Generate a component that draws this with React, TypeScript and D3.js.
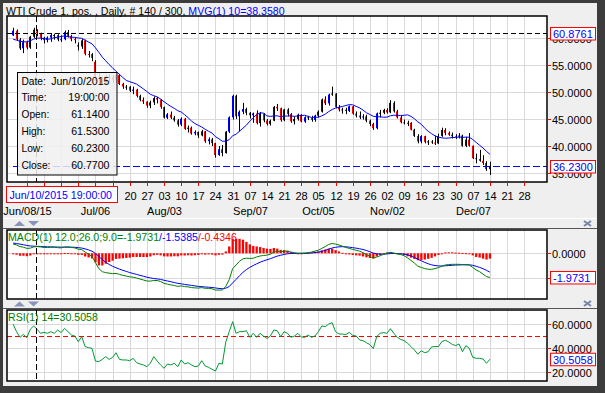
import React, { useEffect, useRef } from "react";
import * as d3 from "d3";

// WTI daily bars, one per weekday, Jun 2 2015 .. Dec 14 2015
const opens = [
  60.40, 61.26, 59.64, 58.00, 59.13, 58.14, 60.14, 61.14, 60.77, 59.96,
  59.52, 59.97, 60.43, 60.45, 59.61, 59.68, 61.01, 60.27, 59.70, 58.60,
  58.33, 59.47, 56.96, 56.93, 55.50, 52.53, 52.33, 51.65, 52.78, 52.60,
  52.20, 53.04, 51.41, 50.91, 50.89, 50.15, 50.36, 49.19, 48.45, 48.14,
  47.39, 47.98, 48.79, 48.52, 47.12, 45.17, 45.74, 45.15, 44.66, 43.87,
  44.96, 43.08, 43.30, 42.23, 42.50, 41.87, 42.62, 40.80, 41.14, 40.45,
  38.24, 39.31, 38.60, 42.56, 45.22, 49.20, 45.41, 46.25, 46.75, 46.05,
  45.60, 45.94, 44.15, 45.92, 44.63, 44.00, 44.59, 47.15, 46.90, 44.68,
  46.68, 45.83, 44.48, 44.91, 45.70, 44.43, 45.23, 45.09, 44.74, 45.54,
  46.26, 48.53, 47.81, 49.43, 49.63, 47.10, 46.66, 46.64, 46.38, 47.26,
  45.89, 45.55, 45.20, 45.38, 44.60, 43.98, 43.20, 45.94, 46.06, 46.59,
  46.14, 47.90, 46.32, 45.20, 44.29, 44.21, 44.21, 42.93, 41.75, 40.74,
  41.74, 40.67, 40.75, 40.54, 40.39, 41.75, 42.87, 42.33, 42.00, 41.71,
  41.65, 41.85, 39.94, 41.08, 39.97, 37.65, 37.51, 37.16, 36.76, 35.62,
];
const highs = [
  61.80, 61.50, 59.90, 59.60, 59.40, 60.30, 61.80, 61.53, 60.90, 60.10,
  60.20, 60.80, 60.70, 60.60, 60.40, 61.30, 61.40, 60.50, 59.90, 59.10,
  59.70, 59.60, 57.50, 57.10, 55.80, 53.40, 52.70, 53.10, 53.20, 53.00,
  53.40, 53.20, 51.60, 51.20, 51.00, 50.90, 50.50, 49.40, 48.90, 48.20,
  48.30, 49.10, 49.00, 48.60, 47.20, 46.00, 46.30, 45.50, 44.90, 45.20,
  45.10, 43.70, 43.50, 42.80, 42.60, 42.90, 42.70, 41.50, 41.40, 40.50,
  39.90, 40.10, 42.70, 45.40, 49.40, 49.40, 46.50, 47.90, 47.00, 46.20,
  46.10, 46.50, 46.20, 46.00, 44.90, 44.80, 47.30, 47.70, 47.00, 46.80,
  46.90, 46.00, 45.40, 45.90, 45.80, 45.40, 45.50, 45.50, 45.70, 46.50,
  48.70, 49.10, 49.60, 50.90, 49.70, 47.50, 47.00, 47.00, 47.40, 47.30,
  46.30, 46.30, 45.80, 45.70, 44.80, 44.20, 46.10, 46.60, 46.80, 46.90,
  48.40, 48.20, 46.60, 45.60, 44.80, 44.60, 44.30, 43.10, 42.10, 41.90,
  41.80, 41.00, 41.00, 41.80, 42.20, 43.30, 43.20, 42.60, 42.40, 42.10,
  42.30, 42.00, 41.60, 42.30, 40.00, 38.50, 39.20, 38.20, 37.10, 37.00,
];
const lows = [
  60.30, 59.40, 57.70, 57.10, 57.80, 57.90, 59.90, 60.23, 59.50, 58.90,
  59.10, 59.20, 59.60, 59.30, 59.20, 59.50, 60.00, 59.30, 58.90, 57.60,
  57.90, 56.70, 56.30, 55.60, 52.00, 51.20, 51.20, 51.40, 51.80, 51.60,
  51.50, 51.20, 50.50, 50.30, 49.90, 49.50, 48.90, 48.20, 47.70, 47.00,
  46.90, 47.50, 47.80, 46.80, 45.00, 44.90, 44.90, 44.40, 43.50, 43.60,
  42.90, 42.40, 42.00, 41.90, 41.40, 41.70, 40.50, 40.20, 39.90, 37.75,
  38.10, 38.00, 38.50, 42.30, 44.80, 44.90, 42.60, 45.80, 45.60, 45.00,
  44.20, 43.90, 43.50, 44.30, 43.70, 43.70, 44.50, 46.40, 44.40, 44.50,
  45.40, 44.20, 43.90, 44.60, 44.30, 44.20, 44.70, 44.40, 44.40, 45.20,
  46.10, 47.50, 47.40, 49.20, 46.90, 46.30, 45.90, 45.80, 46.20, 45.70,
  45.20, 44.90, 44.80, 44.30, 43.60, 42.90, 43.00, 45.20, 45.80, 45.90,
  46.00, 46.10, 45.00, 44.10, 43.90, 43.60, 42.80, 41.60, 40.40, 40.40,
  40.40, 40.10, 40.30, 40.10, 40.30, 41.60, 41.90, 41.80, 41.30, 41.20,
  41.30, 39.80, 39.70, 39.80, 37.50, 36.70, 37.00, 36.40, 35.30, 34.53,
];
const closes = [
  61.26, 59.64, 58.00, 59.13, 58.14, 60.14, 61.43, 60.77, 59.96, 59.52,
  59.97, 60.43, 60.45, 59.61, 59.68, 61.01, 60.27, 59.70, 59.63, 58.33,
  59.47, 56.96, 56.93, 56.20, 52.53, 52.33, 51.65, 52.78, 52.74, 52.20,
  53.04, 51.41, 50.91, 50.89, 50.15, 50.36, 49.19, 48.45, 48.14, 47.39,
  47.98, 48.79, 48.52, 47.12, 45.17, 45.74, 45.15, 44.66, 43.87, 44.96,
  43.08, 43.30, 42.23, 42.50, 41.87, 42.62, 40.80, 41.14, 40.45, 38.24,
  39.31, 38.60, 42.56, 45.22, 49.20, 45.41, 46.25, 46.75, 46.05, 45.60,
  45.94, 44.15, 45.92, 44.63, 44.00, 44.59, 47.15, 46.90, 44.68, 46.68,
  45.83, 44.48, 44.91, 45.70, 44.43, 45.23, 45.09, 44.74, 45.54, 46.26,
  48.53, 47.81, 49.43, 49.63, 47.10, 46.66, 46.64, 46.38, 47.26, 45.89,
  45.55, 45.20, 45.38, 44.60, 43.98, 43.20, 45.94, 46.06, 46.59, 46.14,
  47.90, 46.32, 45.20, 44.29, 44.21, 44.21, 42.93, 41.75, 40.74, 41.74,
  40.67, 40.75, 40.54, 40.39, 41.75, 42.87, 42.33, 42.00, 41.71, 41.65,
  41.85, 39.94, 41.08, 39.97, 37.65, 37.51, 37.16, 36.76, 35.62, 36.23,
];
// MVG(1) 10 as plotted
const mvg10 = [
  59.70, 59.50, 59.30, 59.20, 59.20, 59.40, 59.70, 59.90, 59.87, 59.80,
  59.67, 59.75, 59.99, 60.04, 60.20, 60.28, 60.17, 60.06, 60.03, 59.91,
  59.86, 59.51, 59.16, 58.82, 58.10, 57.24, 56.37, 55.68, 54.99, 54.38,
  53.74, 53.18, 52.58, 52.05, 51.81, 51.61, 51.37, 50.93, 50.47, 49.99,
  49.49, 49.23, 48.99, 48.61, 48.11, 47.65, 47.25, 46.87, 46.44, 46.20,
  45.71, 45.16, 44.53, 44.07, 43.74, 43.42, 42.99, 42.64, 42.30, 41.62,
  41.25, 40.78, 40.81, 41.08, 41.81, 42.09, 42.64, 43.20, 43.76, 44.50,
  45.16, 45.71, 46.05, 45.99, 45.47, 45.39, 45.48, 45.49, 45.36, 45.46,
  45.45, 45.49, 45.39, 45.49, 45.54, 45.60, 45.39, 45.18, 45.26, 45.22,
  45.49, 45.82, 46.28, 46.67, 46.94, 47.08, 47.23, 47.40, 47.57, 47.53,
  47.24, 46.97, 46.57, 46.07, 45.75, 45.41, 45.34, 45.31, 45.24, 45.26,
  45.50, 45.61, 45.59, 45.56, 45.59, 45.69, 45.39, 44.95, 44.37, 43.93,
  43.21, 42.65, 42.18, 41.79, 41.55, 41.41, 41.35, 41.38, 41.48, 41.47,
  41.58, 41.50, 41.56, 41.52, 41.11, 40.57, 40.05, 39.53, 38.92, 38.358,
];
// MACD(1) 12;26;9 line (green) and signal (blue)
const macd = [
  0.75, 0.68, 0.55, 0.50, 0.40, 0.42, 0.52, 0.55, 0.52, 0.48,
  0.47, 0.49, 0.50, 0.46, 0.44, 0.52, 0.52, 0.48, 0.44, 0.33,
  0.30, 0.10, -0.06, -0.25, -0.75, -1.25, -1.50, -1.58, -1.62, -1.66,
  -1.64, -1.72, -1.80, -1.86, -1.92, -1.95, -2.02, -2.10, -2.18, -2.26,
  -2.27, -2.22, -2.22, -2.30, -2.45, -2.52, -2.58, -2.63, -2.70, -2.66,
  -2.72, -2.74, -2.80, -2.82, -2.84, -2.80, -2.86, -2.86, -2.90, -3.00,
  -3.00, -3.00, -2.70, -2.15, -1.25, -0.95, -0.65, -0.45, -0.40, -0.42,
  -0.40, -0.30, -0.22, -0.18, -0.15, -0.08, 0.10, 0.15, 0.12, 0.18,
  0.17, 0.10, 0.05, 0.00, 0.00, 0.02, 0.05, 0.10, 0.18, 0.25,
  0.40, 0.55, 0.72, 0.80, 0.75, 0.68, 0.58, 0.48, 0.40, 0.32,
  0.25, 0.18, 0.05, -0.10, -0.25, -0.40, -0.30, -0.20, -0.08, 0.02,
  0.08, 0.02, -0.05, -0.10, -0.20, -0.38, -0.58, -0.80, -1.05, -1.15,
  -1.25, -1.30, -1.31, -1.25, -1.17, -1.05, -0.95, -0.92, -0.90, -0.90,
  -0.90, -0.92, -0.93, -0.95, -1.15, -1.36, -1.50, -1.70, -1.90, -1.9731,
];
const signal = [
  0.83, 0.80, 0.75, 0.70, 0.64, 0.60, 0.58, 0.57, 0.56, 0.54,
  0.53, 0.52, 0.52, 0.51, 0.50, 0.50, 0.50, 0.50, 0.49, 0.46,
  0.43, 0.36, 0.28, 0.17, -0.01, -0.26, -0.51, -0.73, -0.91, -1.06,
  -1.18, -1.29, -1.39, -1.48, -1.57, -1.65, -1.72, -1.80, -1.87, -1.95,
  -2.01, -2.06, -2.09, -2.13, -2.20, -2.26, -2.32, -2.39, -2.45, -2.49,
  -2.54, -2.58, -2.62, -2.66, -2.70, -2.72, -2.75, -2.77, -2.79, -2.83,
  -2.87, -2.89, -2.85, -2.71, -2.42, -2.13, -1.83, -1.56, -1.33, -1.15,
  -1.00, -0.86, -0.73, -0.62, -0.53, -0.44, -0.33, -0.23, -0.16, -0.09,
  -0.04, -0.01, 0.00, 0.00, 0.00, 0.00, 0.01, 0.03, 0.06, 0.10,
  0.16, 0.24, 0.34, 0.43, 0.49, 0.53, 0.54, 0.53, 0.50, 0.46,
  0.42, 0.37, 0.31, 0.23, 0.13, 0.02, -0.04, -0.07, -0.07, -0.05,
  -0.02, -0.01, -0.02, -0.04, -0.07, -0.13, -0.22, -0.34, -0.48, -0.61,
  -0.74, -0.85, -0.94, -1.00, -1.03, -1.04, -1.02, -1.00, -0.98, -0.96,
  -0.95, -0.94, -0.94, -0.94, -0.98, -1.06, -1.15, -1.26, -1.39, -1.5385,
];
// RSI(1) 14
const rsi = [
  60.2, 53.8, 49.0, 51.5, 48.7, 55.8, 58.6, 55.8, 52.4, 53.2,
  52.4, 53.8, 52.4, 55.2, 53.0, 56.6, 53.8, 51.0, 50.1, 45.4,
  49.6, 41.2, 40.3, 39.7, 29.0, 28.5, 30.4, 32.7, 30.4, 32.1,
  36.0, 30.4, 29.9, 29.9, 29.3, 31.3, 27.6, 26.5, 25.7, 24.2,
  27.1, 32.7, 29.0, 25.7, 22.9, 26.5, 25.7, 27.1, 24.2, 29.9,
  26.5, 27.6, 25.7, 24.2, 24.8, 29.3, 24.8, 23.7, 22.0, 20.6,
  27.1, 26.5, 45.0, 53.8, 62.2, 52.4, 53.8, 53.8, 54.6, 49.0,
  52.4, 49.0, 52.4, 50.1, 48.2, 50.1, 55.2, 54.6, 49.6, 53.8,
  52.4, 49.0, 50.1, 52.4, 49.3, 49.0, 51.0, 49.0, 50.1, 53.8,
  58.6, 58.0, 60.2, 61.4, 53.8, 51.8, 51.8, 51.3, 53.2, 50.7,
  50.1, 46.8, 46.2, 44.5, 42.9, 39.5, 49.6, 52.4, 53.0, 52.4,
  56.3, 52.4, 49.0, 47.3, 46.2, 44.0, 41.2, 38.3, 34.7, 37.7,
  36.0, 36.9, 40.9, 41.2, 41.2, 45.4, 46.5, 45.1, 43.1, 42.0,
  43.4, 36.9, 42.0, 39.7, 32.1, 31.3, 31.3, 30.7, 27.1, 30.5058,
];

// weekly ticks (Mondays), first one is Jun 08 = bar 4
const dayLabels = [
  "08", "15", "22", "29", "06", "13", "20", "27", "03", "10", "17", "24", "31", "07", "14",
  "21", "28", "05", "12", "19", "26", "02", "09", "16", "23", "30", "07", "14", "21", "28",
];
const monthLabels = ["Jun/08/15", "Jul/06", "Aug/03", "Sep/07", "Oct/05", "Nov/02", "Dec/07"];
const monthWeeks = [0, 4, 8, 13, 17, 21, 26];
const priceTicks = [35, 40, 45, 50, 55, 60];
const macdTicks = [0, -2];
const rsiTicks = [20, 40, 60];
const tipRows = [
  ["Date:", "Jun/10/2015"],
  ["Time:", "19:00:00"],
  ["Open:", "61.1400"],
  ["High:", "61.5300"],
  ["Low:", "60.2300"],
  ["Close:", "60.7700"],
];

const FONT = "'Liberation Sans', Arial, sans-serif";

const App = () => {
  const ref = useRef<SVGSVGElement>(null);

  useEffect(() => {
    const svg = d3.select(ref.current);
    svg.selectAll("*").remove();

    const L = 7, R = 547;
    const main = { top: 16, bot: 182 };
    const mac = { top: 230, bot: 299 };
    const rs = { top: 310, bot: 381 };

    const x = d3.scaleLinear().domain([0, closes.length - 1]).range([13.1, 489.9]);
    const yP = d3.scaleLinear().domain([35, 60]).range([172.5, 37.5]);
    const yM = d3.scaleLinear().domain([-2, 0]).range([277.8, 253.3]);
    const yR = d3.scaleLinear().domain([20, 60]).range([371.7, 324.3]);
    const weekX = dayLabels.map((_, k) => Math.round(x(4 + 5 * k)) + 0.5);
    const crossX = 36.5;
    const dateBoxRight = 117.5;

    // window chrome
    svg.append("rect").attr("width", 605).attr("height", 393).attr("fill", "#3c3c3c");
    svg.append("rect").attr("x", 3).attr("y", 3).attr("width", 594).attr("height", 383).attr("fill", "#efefef");
    svg.append("line").attr("x1", 3).attr("x2", 597).attr("y1", 218.5).attr("y2", 218.5).attr("stroke", "#fff");
    svg.append("line").attr("x1", 3).attr("x2", 597).attr("y1", 228.5).attr("y2", 228.5).attr("stroke", "#555");
    svg.append("line").attr("x1", 3).attr("x2", 597).attr("y1", 308.5).attr("y2", 308.5).attr("stroke", "#555");

    const arrows = (y0: number) => {
      svg.append("path").attr("d", `M14,${y0 + 5}L25,${y0 + 5}L19.5,${y0}Z`).attr("fill", "#8796b8");
      svg.append("path").attr("d", `M28,${y0}L39,${y0}L33.5,${y0 + 5}Z`).attr("fill", "#8796b8");
    };
    arrows(221);
    arrows(301.5);
    const closeIcon = (cy: number) => {
      svg.append("path")
        .attr("d", `M584,${cy - 2.5}L591,${cy + 2.5}M591,${cy - 2.5}L584,${cy + 2.5}`)
        .attr("stroke", "#7484aa").attr("stroke-width", 2);
    };
    closeIcon(223.5);
    closeIcon(303.5);

    const panel = (p: { top: number; bot: number }, yTicks: number[], y: (v: number) => number, id: string) => {
      svg.append("rect").attr("x", L).attr("y", p.top).attr("width", R - L).attr("height", p.bot - p.top).attr("fill", "#fff");
      const g = svg.append("g");
      g.selectAll("line.v").data(weekX.filter((v) => v < R)).join("line")
        .attr("x1", (d) => d).attr("x2", (d) => d).attr("y1", p.top).attr("y2", p.bot)
        .attr("stroke", "#d9d9d9");
      g.selectAll("line.h").data(yTicks).join("line")
        .attr("x1", L).attr("x2", R)
        .attr("y1", (d) => Math.round(y(d)) + 0.5).attr("y2", (d) => Math.round(y(d)) + 0.5)
        .attr("stroke", "#d9d9d9");
      svg.append("clipPath").attr("id", id).append("rect")
        .attr("x", L).attr("y", p.top).attr("width", R - L).attr("height", p.bot - p.top);
      return svg.append("g").attr("clip-path", `url(#${id})`);
    };

    // ---- price panel
    const gp = panel(main, priceTicks, yP, "cp");
    const bars = gp.selectAll("g.bar").data(closes).join("g");
    bars.append("rect")
      .attr("x", (_, i) => Math.round(x(i)))
      .attr("y", (_, i) => yP(highs[i]))
      .attr("width", 1)
      .attr("height", (_, i) => yP(lows[i]) - yP(highs[i]))
      .attr("fill", "#000");
    bars.append("rect")
      .attr("x", (_, i) => Math.round(x(i)) - 1)
      .attr("y", (c, i) => yP(Math.max(opens[i], c)))
      .attr("width", 1)
      .attr("height", (c, i) => Math.max(1, Math.abs(yP(opens[i]) - yP(c))))
      .attr("fill", (c, i) => (c < opens[i] ? "#ff0000" : "#0000ff"));
    gp.append("path").datum(mvg10)
      .attr("d", d3.line<number>().x((_, i) => x(i)).y((d) => yP(d)))
      .attr("fill", "none").attr("stroke", "#0000ff").attr("stroke-width", 1);
    const lastY = Math.round(yP(closes[closes.length - 1])) + 0.5;
    gp.append("line").attr("x1", 13).attr("x2", R).attr("y1", lastY).attr("y2", lastY)
      .attr("stroke", "#0000ff").attr("stroke-dasharray", "7,3");
    const hoverY = Math.round(yP(60.8761)) + 0.5;
    gp.append("line").attr("x1", L).attr("x2", R).attr("y1", hoverY).attr("y2", hoverY)
      .attr("stroke", "#000").attr("stroke-dasharray", "5,3");
    gp.append("line").attr("x1", crossX).attr("x2", crossX).attr("y1", main.top).attr("y2", main.bot)
      .attr("stroke", "#000").attr("stroke-dasharray", "6,3");

    // ---- MACD panel
    const gm = panel(mac, macdTicks, yM, "cm");
    gm.selectAll("rect.h").data(macd).join("rect")
      .attr("x", (_, i) => x(i) - 1.1)
      .attr("width", 2.3)
      .attr("y", (d, i) => Math.min(yM(0), yM(d - signal[i])))
      .attr("height", (d, i) => Math.max(1, Math.abs(yM(d - signal[i]) - yM(0))))
      .attr("fill", "#ff0000");
    gm.append("path").datum(signal)
      .attr("d", d3.line<number>().x((_, i) => x(i)).y((d) => yM(d)))
      .attr("fill", "none").attr("stroke", "#0000ff");
    gm.append("path").datum(macd)
      .attr("d", d3.line<number>().x((_, i) => x(i)).y((d) => yM(d)))
      .attr("fill", "none").attr("stroke", "#008000");
    gm.append("line").attr("x1", crossX).attr("x2", crossX).attr("y1", mac.top).attr("y2", mac.bot)
      .attr("stroke", "#000").attr("stroke-dasharray", "6,3");

    // ---- RSI panel
    const gr = panel(rs, rsiTicks, yR, "cr");
    const y50 = Math.round(yR(50)) + 0.5;
    gr.append("line").attr("x1", L).attr("x2", R).attr("y1", y50).attr("y2", y50)
      .attr("stroke", "#ff0000").attr("stroke-dasharray", "5,3");
    gr.append("path").datum(rsi)
      .attr("d", d3.line<number>().x((_, i) => x(i)).y((d) => yR(d)))
      .attr("fill", "none").attr("stroke", "#009933");
    gr.append("line").attr("x1", crossX).attr("x2", crossX).attr("y1", rs.top).attr("y2", rs.bot)
      .attr("stroke", "#000").attr("stroke-dasharray", "6,3");

    // frames
    [main, mac, rs].forEach((p) => {
      svg.append("rect").attr("x", L).attr("y", p.top).attr("width", R - L).attr("height", p.bot - p.top)
        .attr("fill", "none").attr("stroke", "#000").attr("stroke-width", 1.5);
    });

    // value boxes sit over the axis; a tick label fully under a box is not drawn
    const boxes: { cy: number; label: string }[] = [
      { cy: hoverY, label: "60.8761" },
      { cy: lastY, label: "36.2300" },
      { cy: yM(macd[macd.length - 1]), label: "-1.9731" },
      { cy: yR(rsi[rsi.length - 1]), label: "30.5058" },
    ];

    // right axes
    const rightAxis = (ticks: number[], y: (v: number) => number) => {
      ticks.forEach((t) => {
        const ty = Math.round(y(t)) + 0.5;
        svg.append("line").attr("x1", R).attr("x2", R + 4).attr("y1", ty).attr("y2", ty).attr("stroke", "#ff0000");
        if (boxes.some((b) => Math.abs(b.cy - ty) < 4)) return;
        svg.append("text").attr("x", 552).attr("y", ty + 4).attr("font-family", FONT).attr("font-size", 11)
          .attr("fill", "#000").text(t.toFixed(4));
      });
    };
    rightAxis(priceTicks, yP);
    rightAxis(macdTicks, yM);
    rightAxis(rsiTicks, yR);

    // time axis (labels under the cursor date box are hidden, as in the terminal)
    weekX.forEach((wx, k) => {
      if (wx < R) {
        svg.append("line").attr("x1", wx).attr("x2", wx).attr("y1", main.bot).attr("y2", main.bot + 4).attr("stroke", "#ff0000");
      }
      if (wx - 7 > dateBoxRight) {
        svg.append("text").attr("x", wx).attr("y", 199.5).attr("text-anchor", "middle")
          .attr("font-family", FONT).attr("font-size", 11).text(dayLabels[k]);
      }
    });
    monthWeeks.forEach((k, j) => {
      svg.append("text").attr("x", weekX[k]).attr("y", 214.5).attr("text-anchor", "middle")
        .attr("font-family", FONT).attr("font-size", 11).text(monthLabels[j]);
    });

    boxes.forEach((b) => {
      svg.append("rect").attr("x", 550.5).attr("y", b.cy - 6).attr("width", 45).attr("height", 12.5)
        .attr("fill", "#fff").attr("stroke", "#ff0000");
      svg.append("text").attr("x", 553).attr("y", b.cy + 4.3).attr("font-family", FONT).attr("font-size", 11)
        .attr("fill", "#0000ff").text(b.label);
    });

    svg.append("rect").attr("x", 6.5).attr("y", 186.5).attr("width", dateBoxRight - 6.5).attr("height", 16)
      .attr("fill", "#fff").attr("stroke", "#ff0000");
    svg.append("text").attr("x", 9.5).attr("y", 198.5).attr("font-family", FONT).attr("font-size", 10.6)
      .attr("fill", "#0000ff").text("Jun/10/2015 19:00:00");

    // tooltip
    svg.append("rect").attr("x", 17.5).attr("y", 72.5).attr("width", 99.5).attr("height", 102.5)
      .attr("fill", "#f0f0f0").attr("fill-opacity", 0.85).attr("stroke", "#000");
    tipRows.forEach(([k, v], r) => {
      const ty = 84.5 + r * 16.9;
      svg.append("text").attr("x", 21.5).attr("y", ty).attr("font-family", FONT).attr("font-size", 10.2).text(k);
      svg.append("text").attr("x", 109.5).attr("y", ty).attr("text-anchor", "end").attr("font-family", FONT)
        .attr("font-size", 10.6).text(v);
    });

    // titles
    const t1 = svg.append("text").attr("x", 6).attr("y", 14.5).attr("font-family", FONT).attr("font-size", 10.6);
    t1.append("tspan").attr("fill", "#000").text("WTI Crude 1. pos. , Daily, # 140 / 300, ");
    t1.append("tspan").attr("fill", "#0000ff").text("MVG(1) 10=38.3580");
    const t2 = svg.append("text").attr("x", 8).attr("y", 241).attr("font-family", FONT).attr("font-size", 10.6);
    t2.append("tspan").attr("fill", "#008000").text("MACD(1) 12.0;26.0;9.0=-1.9731");
    t2.append("tspan").attr("fill", "#0000ff").text("/-1.5385");
    t2.append("tspan").attr("fill", "#ff0000").text("/-0.4346");
    svg.append("text").attr("x", 8).attr("y", 321).attr("font-family", FONT).attr("font-size", 10.6)
      .attr("fill", "#008000").text("RSI(1) 14=30.5058");
  }, []);

  return (
    <svg
      ref={ref}
      width={605}
      height={393}
      style={{ position: "absolute", left: 0, top: 0, display: "block" }}
    />
  );
};

export default App;
